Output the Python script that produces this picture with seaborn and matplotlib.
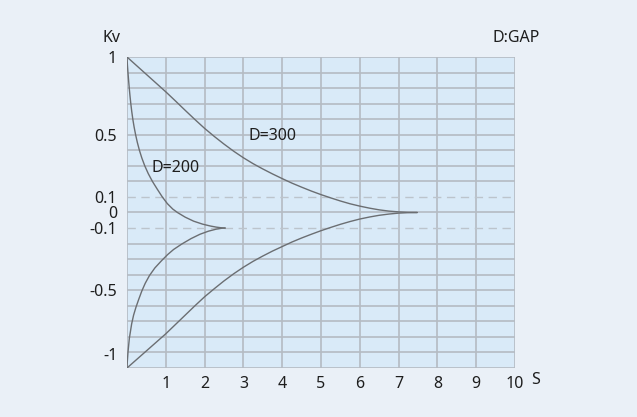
import numpy as np
import pandas as pd
import matplotlib
matplotlib.use("Agg")
import matplotlib.pyplot as plt
import matplotlib.transforms as mtransforms
import seaborn as sns

# ---- data ----
d200_up_x = [0, 0.01, 0.025, 0.041, 0.058, 0.077, 0.098, 0.122, 0.15, 0.183, 0.222, 0.267, 0.32,
             0.383, 0.458, 0.548, 0.655, 0.78, 0.91, 1.04, 1.18, 1.3, 1.5, 1.72, 1.95, 2.15, 2.3,
             2.42, 2.53]
d200_up_y = [1, 0.95, 0.9, 0.85, 0.8, 0.75, 0.7, 0.65, 0.6, 0.55, 0.5, 0.45, 0.4,
             0.35, 0.3, 0.25, 0.2, 0.15, 0.1, 0.057, 0.022, 0.0, -0.03, -0.056, -0.075, -0.087,
             -0.094, -0.098, -0.1]
d200_lo_x = [0, 0.008, 0.025, 0.06, 0.12, 0.17, 0.23, 0.3, 0.38, 0.47, 0.58, 0.72, 0.89, 1.05,
             1.2, 1.41, 1.65, 1.88, 2.1, 2.3, 2.45, 2.53]
d200_lo_y = [-1, -0.96, -0.9, -0.81, -0.716, -0.66, -0.61, -0.56, -0.506, -0.455, -0.405, -0.356,
             -0.31, -0.27, -0.238, -0.203, -0.168, -0.14, -0.12, -0.107, -0.101, -0.1]
d300_x = [0, 0.25, 0.5, 0.75, 1, 1.25, 1.5, 1.75, 2, 2.25, 2.5, 2.75, 3, 3.25, 3.5, 3.75, 4,
          4.25, 4.5, 4.75, 5, 5.25, 5.5, 5.75, 6, 6.25, 6.5, 6.75, 7, 7.25, 7.48]
d300_up_y = [1, 0.944, 0.888, 0.832, 0.776, 0.717, 0.657, 0.598, 0.541, 0.489, 0.44, 0.394, 0.352,
             0.314, 0.28, 0.248, 0.218, 0.189, 0.163, 0.138, 0.115, 0.094, 0.074, 0.056, 0.041,
             0.028, 0.017, 0.009, 0.004, 0.001, 0]
d300_lo_y = [-1, -0.945, -0.89, -0.835, -0.78, -0.72, -0.66, -0.6, -0.542, -0.49, -0.44, -0.394,
             -0.352, -0.314, -0.28, -0.248, -0.219, -0.19, -0.164, -0.14, -0.117, -0.096, -0.076,
             -0.058, -0.042, -0.029, -0.018, -0.01, -0.004, -0.001, 0]

x_ticks = [1, 2, 3, 4, 5, 6, 7, 8, 9, 10]
y_ticks = [1, 0.5, 0.1, 0, -0.1, -0.5, -1]
y_tick_labels = ["1", "0.5", "0.1", "0", "-0.1", "-0.5", "-1"]
curve_labels = {"D=200": (1.26, 0.283), "D=300": (3.74, 0.495)}

rows = []
for name, xs, ys in [("200u", d200_up_x, d200_up_y), ("200l", d200_lo_x, d200_lo_y),
                     ("300u", d300_x, d300_up_y), ("300l", d300_x, d300_lo_y)]:
    for i, (a, b) in enumerate(zip(xs, ys)):
        rows.append({"curve": name, "order": i, "S": a, "Kv": b})
df = pd.DataFrame(rows)

sns.set_theme(style="white")
plt.rcParams["font.family"] = ["Noto Sans", "DejaVu Sans"]

W, H = 637, 417
fig = plt.figure(figsize=(W / 100, H / 100), dpi=100, facecolor="#EAF0F7")
ax = fig.add_axes([127 / W, (H - 368) / H, (515 - 127) / W, (368 - 57) / H])
ax.set_facecolor("#D9EAF8")

grid_c = "#B4BBC3"
for v in range(0, 11):
    ax.axvline(v, color=grid_c, lw=1.2, zorder=1)
for k in range(-10, 11):
    yv = k / 10
    if abs(k) == 1:
        ax.axhline(yv, color="#BCC4CC", lw=1.0, ls=(0, (6, 4)), zorder=1)
    else:
        ax.axhline(yv, color=grid_c, lw=1.2, zorder=1)

for name in ["200u", "200l", "300u", "300l"]:
    sub = df[df["curve"] == name]
    sns.lineplot(data=sub, x="S", y="Kv", sort=False, estimator=None,
                 color="#6B6E72", lw=1.0, ax=ax, zorder=3, legend=False)

ax.set_xlim(0, 10)
ax.set_ylim(-1, 1)
for s in ax.spines.values():
    s.set_visible(False)
ax.set_xlabel("")
ax.set_ylabel("")
ax.set_xticks(x_ticks)
ax.set_xticklabels([str(t) for t in x_ticks])
ax.set_yticks(y_ticks)
ax.set_yticklabels(y_tick_labels)
ax.tick_params(axis="both", length=0, labelsize=11.5, colors="#1E1E1E")
ax.tick_params(axis="x", pad=6)
ax.tick_params(axis="y", pad=7)
# the "-1" label sits slightly above its gridline in the reference
for lab in ax.get_yticklabels():
    if lab.get_text() == "-1":
        lab.set_transform(lab.get_transform() + mtransforms.ScaledTranslation(0, 14 / 100, fig.dpi_scale_trans))

for txt, (xx, yy) in curve_labels.items():
    ax.text(xx, yy, txt, fontsize=11.5, color="#1E1E1E", ha="center", va="center", zorder=4)

fig.text(111 / W, 1 - 38 / H, "Kv", fontsize=11.5, color="#1E1E1E", ha="center", va="center")
fig.text(540 / W, 1 - 38 / H, "D:GAP", fontsize=11.5, color="#1E1E1E", ha="right", va="center")
fig.text(535.5 / W, 1 - 380 / H, "S", fontsize=11.5, color="#1E1E1E", ha="center", va="center")

fig.savefig("out.png", dpi=100, facecolor=fig.get_facecolor())
